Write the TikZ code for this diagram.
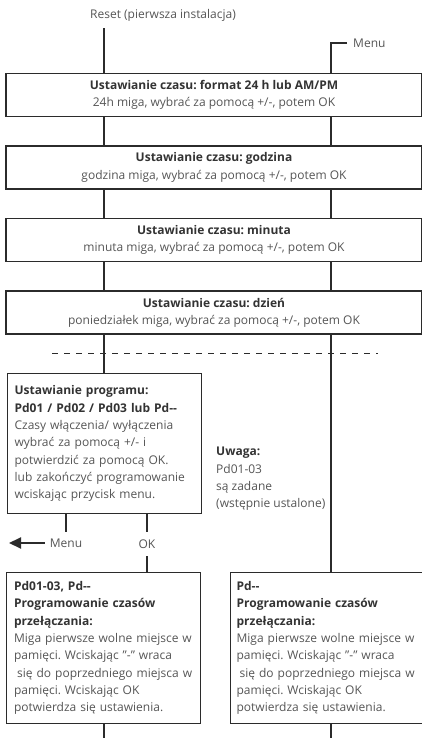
\documentclass[tikz,border=0pt]{standalone}
\usepackage{fontspec}
\setmainfont{Open Sans}
\usetikzlibrary{arrows.meta}
\definecolor{txtgray}{HTML}{555555}
\definecolor{boldgray}{HTML}{333333}
\definecolor{linegray}{HTML}{2B2B2B}
\newcommand{\hd}[1]{{\bfseries\color{boldgray}#1}}
\frenchspacing

\begin{document}
\begin{tikzpicture}[x=1pt,y=-1pt,
        txt/.style={text=txtgray,font=\fontsize{12}{17.3}\selectfont},
        wide/.style={txt,draw=linegray,line width=1.2pt,minimum width=416pt,minimum height=43pt,align=center,inner sep=0pt},
        progbox/.style={txt,draw=linegray,line width=1.2pt,anchor=north west,align=left,inner ysep=0pt},
        flow/.style={draw=linegray,line width=2pt},
        sep/.style={draw=linegray,line width=0.8pt,dash pattern=on 6pt off 6pt}]
    \useasboundingbox (0,0) rectangle (422,738);

    % Columns of the two flows
    \coordinate (colL) at (104,0);
    \coordinate (colR) at (331,0);

    % Entries
    \node[txt,minimum height=26pt,inner sep=0pt] (reset) at (163,15) {Reset (pierwsza instalacja)};
    \node[txt,anchor=west,inner xsep=6pt] (menuin) at (347,43) {Menu};

    % Time setting
    \node[wide] (fmt) at (214,95) {\hd{Ustawianie czasu: format 24 h lub AM/PM}\\24h miga, wybrać za pomocą +/-, potem OK};
    \node[wide] (godz) at (214,167.5) {\hd{Ustawianie czasu: godzina}\\godzina miga, wybrać za pomocą +/-, potem OK};
    \node[wide] (min) at (214,240) {\hd{Ustawianie czasu: minuta}\\minuta miga, wybrać za pomocą +/-, potem OK};
    \node[wide] (dzien) at (214,312.5) {\hd{Ustawianie czasu: dzień}\\poniedziałek miga, wybrać za pomocą +/-, potem OK};

    % Separator
    \draw[sep] (52,353) -- (378,353);

    % Program setting
    \node[progbox,text width=180pt,inner xsep=7pt,minimum height=140pt] (prog) at (7,373)
        {\hd{Ustawianie programu:}\\\hd{Pd01 / Pd02 / Pd03 lub Pd-{}-}\\Czasy włączenia/ wyłączenia\\wybrać za pomocą +/- i\\potwierdzić za pomocą OK.\\lub zakończyć programowanie\\wciskając przycisk menu.};
    \node[txt,anchor=west,align=left,inner sep=0pt] (uwaga) at (216,479)
        {\hd{Uwaga:}\\Pd01-03\\są zadane\\(wstępnie ustalone)};

    \node[txt,minimum height=22pt,inner xsep=5pt,inner ysep=0pt] (menuout) at (66,543) {Menu};
    \node[txt,minimum height=24pt,inner sep=0pt] (ok) at (147,544) {OK};
    \coordinate (menuend) at (9,543);

    % Switching times
    \node[progbox,text width=179pt,inner xsep=7.5pt,minimum height=151pt] (progL) at (6,572)
        {\hd{Pd01-03, Pd-{}-}\\\hd{Programowanie czasów}\\\hd{przełączania:}\\Miga pierwsze wolne miejsce w\\pamięci. Wciskając "-" wraca\\\hspace{3pt}się do poprzedniego miejsca w\\pamięci. Wciskając OK\\potwierdza się ustawienia.};
    \node[progbox,text width=182pt,inner xsep=6pt,minimum height=151pt] (progR) at (230,572)
        {\hd{Pd-{}-}\\\hd{Programowanie czasów}\\\hd{przełączania:}\\Miga pierwsze wolne miejsce w\\pamięci. Wciskając "-" wraca\\\hspace{3pt}się do poprzedniego miejsca w\\pamięci. Wciskając OK\\potwierdza się ustawienia.};

    \coordinate (endL) at (104,738);
    \coordinate (endR) at (331,738);

    % Edges into first box
    \draw[flow] (reset.south -| colL) -- (fmt.north -| colL);
    \draw[flow] (menuin.west) -| (fmt.north -| colR);

    % Edges between time boxes
    \draw[flow] (fmt.south -| colL) -- (godz.north -| colL);
    \draw[flow] (fmt.south -| colR) -- (godz.north -| colR);
    \draw[flow] (godz.south -| colL) -- (min.north -| colL);
    \draw[flow] (godz.south -| colR) -- (min.north -| colR);
    \draw[flow] (min.south -| colL) -- (dzien.north -| colL);
    \draw[flow] (min.south -| colR) -- (dzien.north -| colR);

    % Edges to programming
    \draw[flow] (dzien.south -| colL) -- (prog.north -| colL);
    \draw[flow] (dzien.south -| colR) -- (progR.north -| colR);

    % Edges out of programming
    \draw[flow] (prog.south -| menuout) -- (menuout.north);
    \draw[flow,-{Triangle[length=12pt,width=11pt]}] (menuout.west) -- (menuend);
    \draw[flow] (prog.south -| ok) -- (ok.north);
    \draw[flow] (ok.south) -- (progL.north -| ok);

    % Edges leaving the bottom
    \draw[flow] (progL.south -| endL) -- (endL);
    \draw[flow] (progR.south -| endR) -- (endR);
\end{tikzpicture}
\end{document}
